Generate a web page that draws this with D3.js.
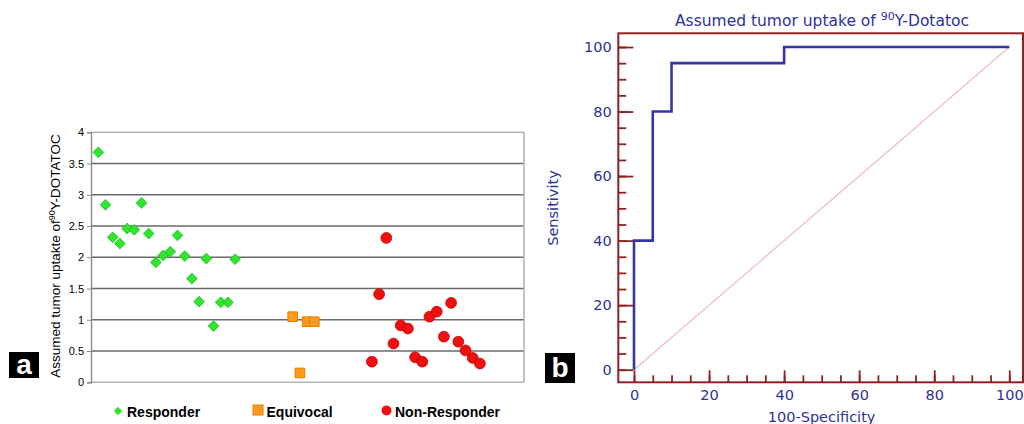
<!DOCTYPE html>
<html>
<head>
<meta charset="utf-8">
<script src="https://cdn.jsdelivr.net/npm/d3@7"></script>
<style>
  body { margin: 0; background: #fff; }
  svg { display: block; }
  .leftTick text { font-family: "Liberation Sans Narrow", "Liberation Sans", Arial, sans-serif; font-size: 11px; fill: #000; }
  .roc text { font-family: "DejaVu Sans", Verdana, sans-serif; fill: #30309a; }
</style>
</head>
<body>
<svg id="fig" width="1024" height="424"></svg>
<script>
// panel a: assumed tumor uptake per patient (x = position on category axis)
var responderX = [1, 2, 3, 4, 5, 6, 7, 8, 9, 10, 11, 12, 13, 14, 15, 16, 17, 18, 19, 20];
var responderY = [3.68, 2.84, 2.32, 2.22, 2.46, 2.44, 2.87, 2.38, 1.92, 2.03, 2.09, 2.35, 2.02, 1.66, 1.29, 1.98, 0.90, 1.28, 1.28, 1.97];
var equivocalX = [28, 29, 30, 31];
var equivocalY = [1.05, 0.15, 0.97, 0.97];
var nonResponderX = [39, 40, 41, 42, 43, 44, 45, 46, 47, 48, 49, 50, 51, 52, 53, 54];
var nonResponderY = [0.33, 1.41, 2.31, 0.62, 0.91, 0.86, 0.40, 0.33, 1.05, 1.13, 0.73, 1.27, 0.65, 0.51, 0.39, 0.30];
var leftTicks = [0, 0.5, 1, 1.5, 2, 2.5, 3, 3.5, 4];

// panel b: ROC curve
var rocX = [0, 0, 5, 5, 10, 10, 40, 40, 100];
var rocY = [0, 40, 40, 80, 80, 95, 95, 100, 100];
var rocTicks = [0, 20, 40, 60, 80, 100];

var svg = d3.select("#fig");

// ---------- panel a ----------
var xA = d3.scaleLinear().domain([0, 60]).range([91.1, 523.1]);
var yA = d3.scaleLinear().domain([0, 4]).range([382.3, 132.3]);

var ga = svg.append("g");

ga.selectAll("line.grid")
    .data(leftTicks)
  .enter().append("line")
    .attr("class", "grid")
    .attr("x1", 91).attr("x2", 524)
    .attr("y1", function(d) { return yA(d); })
    .attr("y2", function(d) { return yA(d); })
    .attr("stroke", function(d) { return (d === 0 || d === 4) ? "#b4b4b4" : "#6a6a6a"; })
    .attr("stroke-width", 1.6);

ga.append("line")
    .attr("x1", 524).attr("x2", 524)
    .attr("y1", yA(4)).attr("y2", yA(0))
    .attr("stroke", "#b4b4b4").attr("stroke-width", 1.6);

ga.append("g")
    .attr("class", "leftTick")
    .attr("transform", "translate(91,0)")
    .call(d3.axisLeft(yA).tickValues(leftTicks).tickSize(4).tickPadding(3)
      .tickFormat(function(d) { return String(d); }))
    .call(function(g) {
      g.select(".domain").attr("stroke", "#8a8a8a").attr("stroke-width", 1.4);
      g.selectAll(".tick line").attr("stroke", "#8a8a8a");
    });

ga.append("text")
    .attr("transform", "translate(60,256) rotate(-90)")
    .attr("text-anchor", "middle")
    .style("font-family", "Liberation Sans, Arial, sans-serif")
    .style("font-size", "13.5px")
    .html('Assumed tumor uptakte of<tspan dy="-5" font-size="9px">90</tspan><tspan dy="5">Y-DOTATOC</tspan>');

var diamond = d3.symbol().type(d3.symbolDiamond2).size(74);
var square = d3.symbol().type(d3.symbolSquare).size(92);

ga.selectAll("path.resp")
    .data(responderX)
  .enter().append("path")
    .attr("class", "resp")
    .attr("d", diamond)
    .attr("transform", function(d, i) { return "translate(" + xA(d) + "," + yA(responderY[i]) + ")"; })
    .attr("fill", "#2ee62e")
    .attr("stroke", "#22bb22")
    .attr("stroke-width", 0.8);

ga.selectAll("path.equiv")
    .data(equivocalX)
  .enter().append("path")
    .attr("class", "equiv")
    .attr("d", square)
    .attr("transform", function(d, i) { return "translate(" + xA(d) + "," + yA(equivocalY[i]) + ")"; })
    .attr("fill", "#ff9a1a")
    .attr("stroke", "#e67a00")
    .attr("stroke-width", 1);

ga.selectAll("circle.nonresp")
    .data(nonResponderX)
  .enter().append("circle")
    .attr("class", "nonresp")
    .attr("cx", function(d) { return xA(d); })
    .attr("cy", function(d, i) { return yA(nonResponderY[i]); })
    .attr("r", 5.4)
    .attr("fill", "#f01010")
    .attr("stroke", "#c00000")
    .attr("stroke-width", 0.8);

// legend
var legend = ga.append("g").style("font-family", "Liberation Sans, Arial, sans-serif")
    .style("font-size", "14px").style("font-weight", "bold");
legend.append("path").attr("d", d3.symbol().type(d3.symbolDiamond2).size(44))
    .attr("transform", "translate(118,411)").attr("fill", "#2ee62e");
legend.append("text").attr("x", 127).attr("y", 416.5).text("Responder");
legend.append("rect").attr("x", 253).attr("y", 405).attr("width", 10).attr("height", 10)
    .attr("fill", "#ff9a1a").attr("stroke", "#e67a00");
legend.append("text").attr("x", 266.5).attr("y", 416.5).text("Equivocal");
legend.append("circle").attr("cx", 386.5).attr("cy", 410.5).attr("r", 5).attr("fill", "#f01010");
legend.append("text").attr("x", 395).attr("y", 416.5).text("Non-Responder");

// panel label a
svg.append("rect").attr("x", 9).attr("y", 352).attr("width", 30).attr("height", 26).attr("fill", "#000");
svg.append("text").attr("x", 24).attr("y", 373.5).attr("text-anchor", "middle")
    .style("font-family", "Liberation Sans, Arial, sans-serif").style("font-size", "28px")
    .style("font-weight", "bold").attr("fill", "#fff").text("a");

// ---------- panel b ----------
var xB = d3.scaleLinear().domain([0, 100]).range([634, 1009.3]);
var yB = d3.scaleLinear().domain([0, 100]).range([369.7, 47]);
var frameCol = "#8c2323";

var gb = svg.append("g").attr("class", "roc");

gb.append("text")
    .attr("x", 822).attr("y", 26)
    .attr("text-anchor", "middle")
    .style("font-size", "15.5px")
    .html('Assumed tumor uptake of <tspan dy="-6" font-size="11px">90</tspan><tspan dy="6">Y-Dotatoc</tspan>');

// diagonal
gb.append("line")
    .attr("x1", xB(0)).attr("y1", yB(0)).attr("x2", xB(100)).attr("y2", yB(100))
    .attr("stroke", "#ecbcbc").attr("stroke-width", 1.2);

// minor + major ticks
function tickStyle(g) {
  g.select(".domain").remove();
  g.selectAll(".tick line").attr("stroke", frameCol).attr("stroke-width", 1.8);
}
gb.append("g").attr("transform", "translate(618.3,0)")
    .call(d3.axisRight(yB).tickValues(d3.range(0, 101, 5)).tickSize(8).tickFormat(""))
    .call(tickStyle);
gb.append("g").attr("transform", "translate(618.3,0)")
    .call(d3.axisRight(yB).tickValues(rocTicks).tickSize(15).tickFormat(""))
    .call(tickStyle);
gb.append("g").attr("transform", "translate(0,382.3)")
    .call(d3.axisTop(xB).tickValues(d3.range(0, 101, 5)).tickSize(7).tickFormat(""))
    .call(tickStyle);
gb.append("g").attr("transform", "translate(0,382.3)")
    .call(d3.axisTop(xB).tickValues(rocTicks).tickSize(12).tickFormat(""))
    .call(tickStyle);

// tick labels
gb.append("g").attr("transform", "translate(618.3,0)")
    .call(d3.axisLeft(yB).tickValues(rocTicks).tickSize(0).tickPadding(6.5))
    .call(function(g) {
      g.select(".domain").remove();
      g.selectAll("text").style("font-size", "14.5px").attr("fill", "#30309a");
    });
gb.append("g").attr("transform", "translate(0,382.3)")
    .call(d3.axisBottom(xB).tickValues(rocTicks).tickSize(0).tickPadding(7))
    .call(function(g) {
      g.select(".domain").remove();
      g.selectAll("text").style("font-size", "14.5px").attr("fill", "#30309a");
    });

// frame
gb.append("rect")
    .attr("x", 618.3).attr("y", 33.3)
    .attr("width", 1023 - 618.3).attr("height", 382.3 - 33.3)
    .attr("fill", "none").attr("stroke", frameCol).attr("stroke-width", 2);

// ROC step curve
var rocLine = d3.line()
    .x(function(d) { return xB(d[0]); })
    .y(function(d) { return yB(d[1]); });
gb.append("path")
    .datum(d3.zip(rocX, rocY))
    .attr("d", rocLine)
    .attr("fill", "none")
    .attr("stroke", "#3535a8")
    .attr("stroke-width", 2.6)
    .attr("stroke-linejoin", "miter");

gb.append("text")
    .attr("transform", "translate(558,208) rotate(-90)")
    .attr("text-anchor", "middle")
    .style("font-size", "14.5px")
    .text("Sensitivity");

gb.append("text")
    .attr("x", 821.6).attr("y", 422)
    .attr("text-anchor", "middle")
    .style("font-size", "14.5px")
    .text("100-Specificity");

// panel label b
svg.append("rect").attr("x", 545).attr("y", 353).attr("width", 30).attr("height", 30).attr("fill", "#000");
svg.append("text").attr("x", 560).attr("y", 376.5).attr("text-anchor", "middle")
    .style("font-family", "Liberation Sans, Arial, sans-serif").style("font-size", "28px")
    .style("font-weight", "bold").attr("fill", "#fff").text("b");
</script>
</body>
</html>
